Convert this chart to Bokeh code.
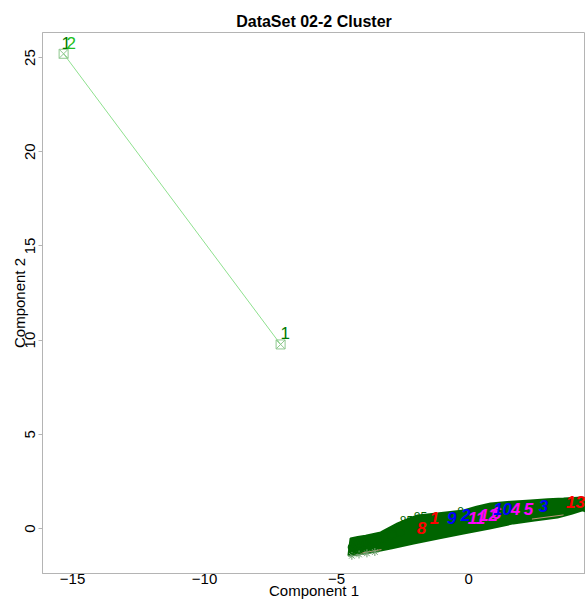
from bokeh.plotting import figure
from bokeh.models import FixedTicker, Label
from bokeh.core.properties import value
from bokeh.embed import file_html
from bokeh.resources import INLINE

title_text = "DataSet 02-2 Cluster"
x_label = "Component 1"
y_label = "Component 2"
footnote = "These two components explain 100 % of the point variability."
x_ticks = [-15, -10, -5, 0]
y_ticks = [0, 5, 10, 15, 20, 25]

# two isolated points (top-left) joined by a line
out_x = [-15.34, -7.12]
out_y = [25.2, 9.77]

# outline of the dense cloud of points
blob_upper_x = [-4.47, -4.2, -3.9, -3.33, -2.69, -2.3, -1.93, -1.2, -0.19, 0.3, 0.83, 1.6, 2.35, 3.0, 3.6, 4.32, 4.45]
blob_upper_y = [-0.53, -0.45, -0.38, -0.21, 0.27, 0.5, 0.69, 0.8, 0.96, 1.15, 1.33, 1.42, 1.49, 1.55, 1.59, 1.65, 1.6]
blob_lower_x = [4.45, 4.32, 3.9, 3.37, 2.5, 1.7, 0.8, -0.19, -1.1, -2.08, -2.9, -3.71, -4.2, -4.55]
blob_lower_y = [0.9, 0.96, 0.78, 0.58, 0.42, 0.27, 0.0, -0.27, -0.52, -0.8, -1.05, -1.27, -1.38, -1.43]

# cluster labels inside the cloud
clus_labels = ["8", "1", "9", "2", "11", "12", "6", "10", "4", "5", "3", "13"]
clus_x = [-1.78, -1.29, -0.64, -0.11, 0.30, 0.76, 1.06, 1.29, 1.78, 2.27, 2.84, 4.05]
clus_y = [0.0, 0.53, 0.58, 0.69, 0.58, 0.69, 0.8, 1.01, 1.01, 1.06, 1.17, 1.38]
clus_color = ["red", "red", "blue", "blue", "magenta", "magenta", "magenta",
              "blue", "magenta", "magenta", "blue", "red"]

# open circle points at the lower-left end of the cloud
circ_x = [-4.4, -4.25, -4.1, -3.95, -3.8, -3.6, -3.4, -4.35, -4.15, -3.2, -2.9, -2.6]
circ_y = [-1.0, -0.9, -0.85, -0.8, -0.72, -0.66, -0.58, -1.15, -1.1, -0.5, -0.35, -0.2]

# point labels on the upper edge
pt_labels = ["85", "85", "8"]
pt_x = [-1.82, -2.35, -0.3]
pt_y = [0.62, 0.42, 0.92]

# asterisk points at the lower-left tip
ast_x = [-4.42, -4.15, -3.85, -3.55]
ast_y = [-1.45, -1.38, -1.32, -1.25]

# faint connecting segments
seg_xs = [[-4.35, -3.3], [2.4, 3.6]]
seg_ys = [[-1.38, -1.12], [0.5, 0.72]]

FONT = "Liberation Sans"

p = figure(width=585, height=604, output_backend="svg", toolbar_location=None,
           x_range=(-16.14, 4.43), y_range=(-2.39, 26.33),
           min_border_left=42, min_border_right=0, min_border_top=32,
           min_border_bottom=31, background_fill_color="white",
           border_fill_color="white")

p.title.text = title_text
p.title.align = "center"
p.title.text_font = FONT
p.title.text_font_size = "16px"
p.title.text_font_style = "bold"
p.title.text_color = "black"
p.title.standoff = 6

p.xgrid.visible = False
p.ygrid.visible = False
p.outline_line_color = "#B4B4B4"

for ax in (p.xaxis[0], p.yaxis[0]):
    ax.axis_line_color = "#B4B4B4"
    ax.major_tick_line_color = "#B4B4B4"
    ax.minor_tick_line_color = None
    ax.major_label_text_font = FONT
    ax.major_label_text_font_size = "15px"
    ax.major_label_text_color = "black"
    ax.axis_label_text_font = FONT
    ax.axis_label_text_font_size = "15px"
    ax.axis_label_text_font_style = "normal"
    ax.axis_label_text_color = "black"

p.xaxis.ticker = FixedTicker(ticks=x_ticks)
p.yaxis.ticker = FixedTicker(ticks=y_ticks)
p.xaxis.axis_label = x_label
p.yaxis.axis_label = y_label
p.xaxis.major_tick_in = 0
p.xaxis.major_tick_out = 0
p.xaxis.major_label_standoff = 0
p.xaxis.axis_label_standoff = -5
p.yaxis.major_tick_in = 0
p.yaxis.major_tick_out = 4
p.yaxis.major_label_standoff = 3
p.yaxis.major_label_orientation = "vertical"
p.yaxis.axis_label_standoff = -5

# line between isolated points
p.line(out_x, out_y, line_color="#8EE08E", line_width=1)
p.scatter(out_x, out_y, marker="square_x", size=9, fill_color=None,
          line_color="#8FC88F", line_width=1)

# dense cloud
p.patch(blob_upper_x + blob_lower_x, blob_upper_y + blob_lower_y,
        fill_color="#006400", line_color="#006400", line_width=2)
p.multi_line(seg_xs, seg_ys, line_color="#F2A09A", line_width=1, line_alpha=0.8)
p.scatter(ast_x, ast_y, marker="asterisk", size=8, line_color="#6F9F6F")
p.scatter(circ_x, circ_y, marker="circle", size=8, fill_color="white",
          fill_alpha=0.0, line_color="#006400", line_width=1.5)
p.text(pt_x, pt_y, text=pt_labels, text_color="#006400",
       text_font=value(FONT), text_font_size="12px",
       text_align="center", text_baseline="middle")

p.text(clus_x, clus_y, text=clus_labels, text_color=clus_color,
       text_font=value(FONT), text_font_size="17px",
       text_font_style="bold italic", text_align="center",
       text_baseline="middle")

# labels of isolated points
p.text([out_x[0]], [out_y[0]], text=["1"], text_color="#007A00",
       text_font=value(FONT), text_font_size="17px",
       x_offset=-2, y_offset=-11, text_align="left", text_baseline="middle")
p.text([out_x[0]], [out_y[0]], text=["2"], text_color="#20C020",
       text_font=value(FONT), text_font_size="17px",
       x_offset=3, y_offset=-11, text_align="left", text_baseline="middle")
p.text([out_x[1]], [out_y[1]], text=["1"], text_color="#007A00",
       text_font=value(FONT), text_font_size="17px",
       x_offset=0, y_offset=-11, text_align="left", text_baseline="middle")

p.add_layout(Label(x=1, y=-28, x_units="screen", y_units="screen",
                   text=footnote, text_font=FONT, text_font_size="4.5px",
                   text_color="black", text_baseline="middle"))

open("out.html", "w").write(file_html(p, INLINE))
